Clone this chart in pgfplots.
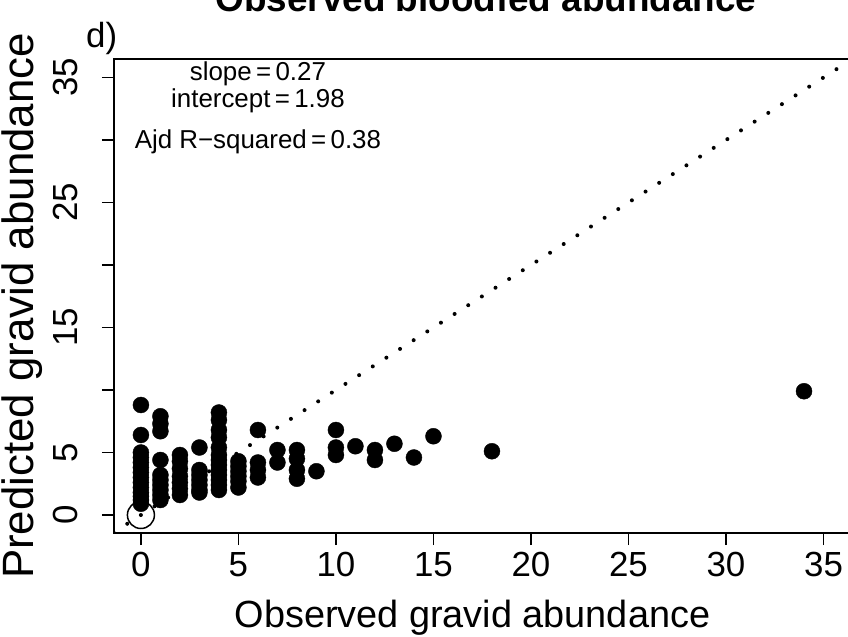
\documentclass[border=0pt]{standalone}
\usepackage{fontspec}
\setmainfont{Liberation Sans}
\usepackage{pgfplots}
\usepackage{pgfplotstable}
\pgfplotsset{compat=1.18}

\pgfplotstableread{
x y
0 8.8
0 6.4
0 5.0
0 4.6
0 4.2
0 3.8
0 3.4
0 3.0
0 2.6
0 2.2
0 1.8
0 1.5
0 1.2
0 0.9
1 7.9
1 7.3
1 6.7
1 4.4
1 3.2
1 2.8
1 2.4
1 2.0
1 1.6
1 1.2
2 4.8
2 4.3
2 3.7
2 3.1
2 2.6
2 2.1
2 1.6
3 5.4
3 3.6
3 3.2
3 2.8
3 2.4
3 2.0
3 1.8
4 8.2
4 7.6
4 6.8
4 6.2
4 5.4
4 4.8
4 4.4
4 4.0
4 3.6
4 3.2
4 2.8
4 2.4
4 2.0
5 4.3
5 3.9
5 3.5
5 3.1
5 2.7
5 2.2
6 6.8
6 4.2
6 3.6
6 3.0
7 5.2
7 4.2
8 5.2
8 4.5
8 3.6
8 2.9
9 3.5
10 6.8
10 5.4
10 4.8
11 5.5
12 5.2
12 4.4
13 5.7
14 4.6
15 6.3
18 5.1
34 9.9
}\obsdata

\begin{document}
\begin{tikzpicture}
\begin{axis}[
  name=ax,
  scale only axis,
  width=737bp, height=474bp,
  xmin=-1.38, xmax=36.41,
  ymin=-1.44, ymax=36.48,
  axis line style={line width=2bp},
  tick style={line width=1.8bp, black},
  tick align=outside,
  major tick length=12bp,
  xtick={0,5,...,35},
  ytick={0,5,...,35},
  yticklabels={0,5,,15,,25,,35},
  xtick pos=left, ytick pos=left,
  /pgf/number format/assume math mode=true,
  ticklabel style={font=\fontsize{35}{42}\selectfont, inner sep=0pt},
  xticklabel style={anchor=north},
  xticklabel shift=7bp,
  yticklabel style={rotate=90, anchor=base},
  yticklabel shift=24bp,
  xlabel={Observed gravid abundance},
  ylabel={Predicted gravid abundance},
  xlabel style={font=\fontsize{38}{45}\selectfont, inner sep=0pt, at={(axis description cs:0.4863,-0.2004)}, anchor=base},
  ylabel style={font=\fontsize{44}{52}\selectfont, inner sep=0pt, at={(axis description cs:-0.1092,0.479)}, anchor=base},
  title={Observed bloodfed abundance},
  title style={font=\bfseries\fontsize{37}{44}\selectfont, at={(axis description cs:0.5047,1.0886)}, anchor=base, inner sep=0pt},
  clip=true,
]
\addplot[black, line width=4bp, dash pattern=on 0pt off 16.2bp, line cap=round] coordinates {(-1.4,-1.4) (36.6,36.6)};
\addplot[only marks, mark=*, mark size=8bp, black, mark options={draw=none}] table[x=x,y=y] {\obsdata};
\addplot[only marks, mark=o, mark size=13.5bp, black, mark options={line width=1.5bp}] coordinates {(0,0)};
\node[anchor=base, font=\fontsize{26}{30}\selectfont, inner sep=0pt] at (axis cs:6.0,34.74) {slope\,=\,0.27};
\node[anchor=base, font=\fontsize{26}{30}\selectfont, inner sep=0pt] at (axis cs:6.0,32.6) {intercept\,=\,1.98};
\node[anchor=base, font=\fontsize{26}{30}\selectfont, inner sep=0pt] at (axis cs:6.0,29.34) {Ajd R−squared\,=\,0.38};
\end{axis}
\node[anchor=base west, font=\fontsize{35}{42}\selectfont, inner sep=0pt] at ([shift={(-28bp,11bp)}]ax.north west) {d)};
\pgfresetboundingbox
\path[use as bounding box] ([shift={(-114bp,-104bp)}]ax.south west) rectangle ([shift={(-3bp,59bp)}]ax.north east);
\end{tikzpicture}
\end{document}
